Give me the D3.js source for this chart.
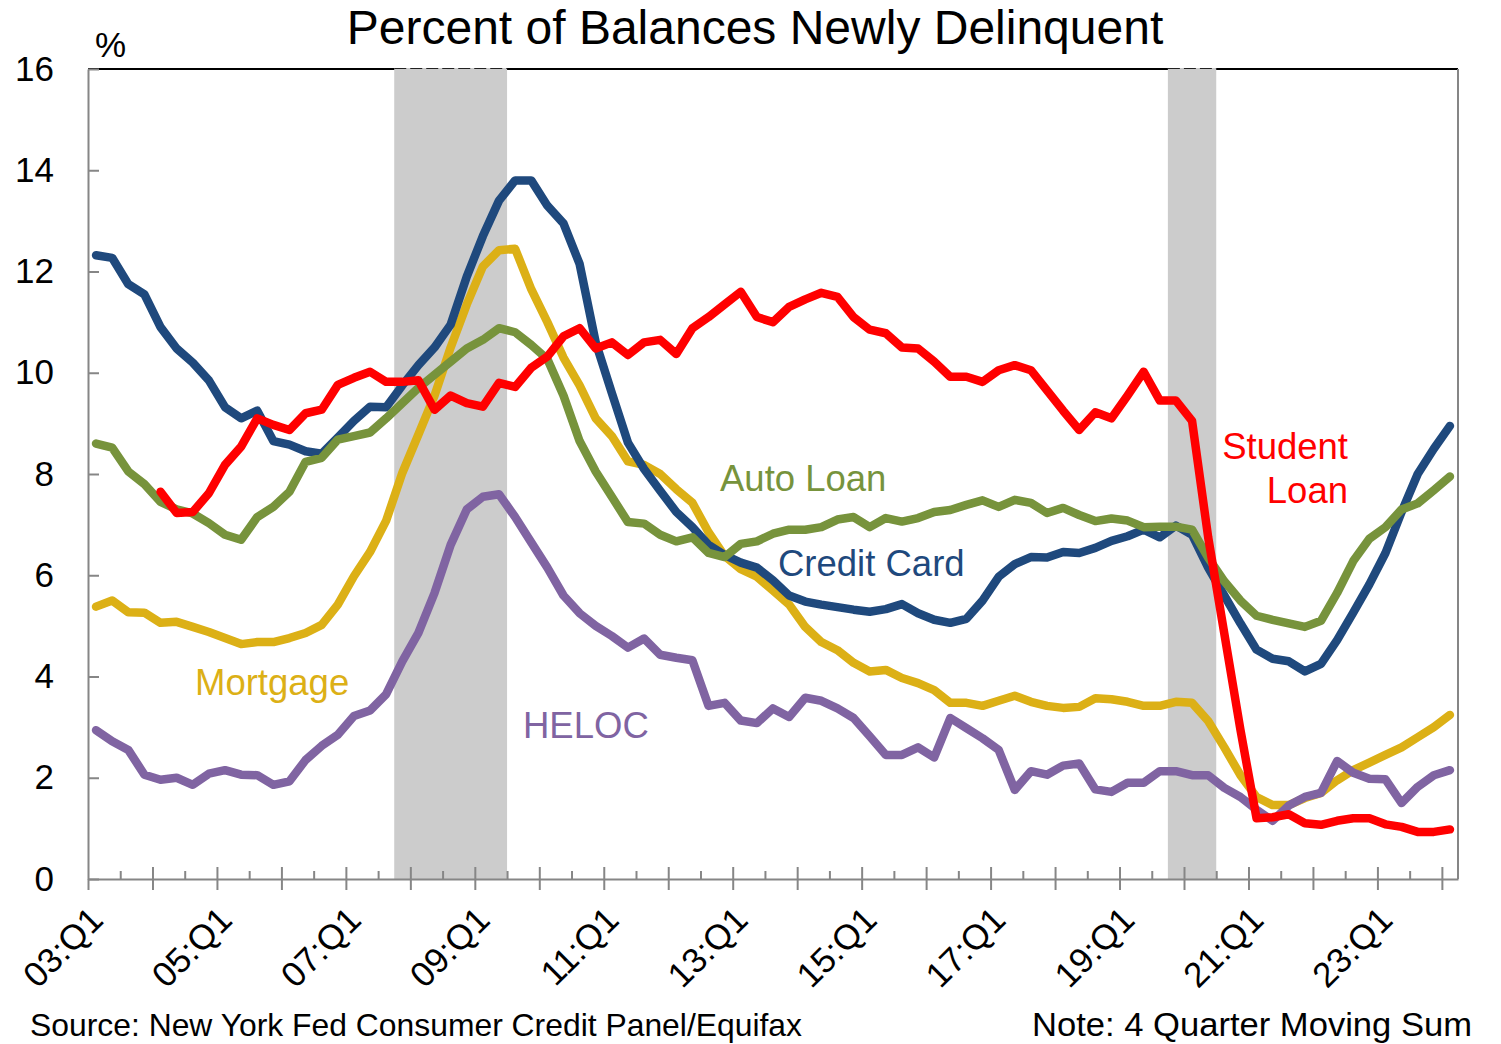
<!DOCTYPE html>
<html>
<head>
<meta charset="utf-8">
<script src="https://cdn.jsdelivr.net/npm/d3@7"></script>
<style>
  body { margin: 0; background: #fff; }
  text { font-family: "Liberation Sans", Arial, sans-serif; }
</style>
</head>
<body>
<div id="chart"></div>
<script>
const width = 1501;
const height = 1044;

// quarters 03:Q1 .. 24:Q1
const quarters = [];
for (let yr = 3; yr <= 24; yr++) {
  for (let q = 1; q <= 4; q++) {
    if (yr === 24 && q > 1) break;
    quarters.push(String(yr).padStart(2, "0") + ":Q" + q);
  }
}

const creditCard = [12.32, 12.27, 11.75, 11.55, 10.9, 10.48, 10.2, 9.85, 9.32, 9.1,
  9.25, 8.65, 8.58, 8.45, 8.4, 8.72, 9.05, 9.33, 9.32, 9.75,
  10.15, 10.5, 10.95, 11.9, 12.7, 13.4, 13.8, 13.8, 13.3, 12.95,
  12.15, 10.6, 9.6, 8.62, 8.1, 7.67, 7.25, 6.95, 6.6, 6.4,
  6.25, 6.15, 5.9, 5.6, 5.48, 5.42, 5.37, 5.32, 5.28, 5.33,
  5.43, 5.25, 5.12, 5.06, 5.14, 5.5, 5.97, 6.22, 6.36, 6.35,
  6.46, 6.44, 6.54, 6.68, 6.77, 6.9, 6.75, 6.98, 6.8, 6.15,
  5.6, 5.05, 4.53, 4.35, 4.3, 4.1, 4.25, 4.72, 5.26, 5.82,
  6.44, 7.25, 8.0, 8.5, 8.95];

const autoLoan = [8.6, 8.52, 8.05, 7.8, 7.45, 7.3, 7.22, 7.03, 6.8, 6.7,
  7.15, 7.35, 7.65, 8.24, 8.32, 8.68, 8.75, 8.82, 9.1, 9.4,
  9.7, 9.96, 10.22, 10.48, 10.65, 10.88, 10.8, 10.55, 10.27, 9.55,
  8.65, 8.05, 7.55, 7.05, 7.02, 6.8, 6.67, 6.75, 6.44, 6.36,
  6.62, 6.67, 6.82, 6.9, 6.9, 6.95, 7.1, 7.15, 6.95, 7.13,
  7.06, 7.13, 7.25, 7.29, 7.39, 7.48, 7.35, 7.49, 7.43, 7.23,
  7.33, 7.19, 7.07, 7.12, 7.08, 6.95, 6.96, 6.96, 6.9, 6.35,
  5.88, 5.5, 5.2, 5.12, 5.05, 4.98, 5.1, 5.65, 6.28, 6.72,
  6.95, 7.3, 7.42, 7.68, 7.95];

const mortgage = [5.38, 5.5, 5.27, 5.26, 5.06, 5.08, 4.98, 4.88, 4.76, 4.64,
  4.68, 4.68, 4.76, 4.86, 5.02, 5.42, 5.98, 6.46, 7.08, 8.02,
  8.78, 9.55, 10.5, 11.35, 12.1, 12.42, 12.45, 11.65, 11.0, 10.3,
  9.75, 9.1, 8.75, 8.25, 8.18, 8.0, 7.7, 7.43, 6.85, 6.38,
  6.12, 5.97, 5.7, 5.42, 4.98, 4.68, 4.52, 4.27, 4.1, 4.13,
  3.97, 3.87, 3.73, 3.48, 3.48, 3.42, 3.52, 3.62, 3.5, 3.42,
  3.38, 3.4, 3.57, 3.55, 3.5, 3.42, 3.42, 3.5, 3.48, 3.12,
  2.6, 2.05, 1.62, 1.46, 1.46, 1.6, 1.7, 1.95, 2.15, 2.3,
  2.45, 2.6, 2.8, 3.0, 3.24];

const heloc = [2.94, 2.72, 2.55, 2.06, 1.96, 2.0, 1.86, 2.08, 2.15, 2.06,
  2.05, 1.86, 1.93, 2.35, 2.63, 2.85, 3.22, 3.33, 3.65, 4.3,
  4.86, 5.65, 6.6, 7.3, 7.55, 7.6, 7.15, 6.65, 6.15, 5.6,
  5.25, 5.0, 4.8, 4.57, 4.75, 4.43, 4.37, 4.32, 3.42, 3.48,
  3.13, 3.08, 3.37, 3.2, 3.58, 3.52, 3.37, 3.18, 2.82, 2.45,
  2.45, 2.6, 2.4, 3.18, 2.98, 2.78, 2.55, 1.76, 2.13, 2.06,
  2.24, 2.28, 1.77, 1.72, 1.9, 1.9, 2.13, 2.13, 2.05, 2.05,
  1.8, 1.62, 1.37, 1.15, 1.45, 1.62, 1.7, 2.33, 2.1, 1.98,
  1.97, 1.5, 1.82, 2.05, 2.15];

const studentLoan = [null, null, null, null, 7.65, 7.23, 7.25, 7.62, 8.18, 8.54,
  9.1, 8.97, 8.87, 9.2, 9.27, 9.76, 9.9, 10.02, 9.82, 9.82,
  9.85, 9.27, 9.55, 9.4, 9.33, 9.8, 9.72, 10.1, 10.32, 10.72,
  10.88, 10.48, 10.6, 10.35, 10.6, 10.65, 10.37, 10.88, 11.1, 11.35,
  11.6, 11.1, 11.0, 11.3, 11.45, 11.58, 11.5, 11.1, 10.85, 10.78,
  10.5, 10.48, 10.22, 9.92, 9.92, 9.82, 10.05, 10.15, 10.05, 9.65,
  9.25, 8.87, 9.22, 9.1, 9.55, 10.02, 9.45, 9.45, 9.05, 6.75,
  4.85, 2.95, 1.2, 1.22, 1.28, 1.1, 1.07, 1.15, 1.2, 1.2,
  1.08, 1.03, 0.93, 0.93, 0.98];

const recessions = [["07:Q4", "09:Q2"], ["19:Q4", "20:Q2"]];
const yTicks = [0, 2, 4, 6, 8, 10, 12, 14, 16];

// drawing order, colours and in-chart labels (ly = baseline of first line)
const series = [
  { name: "Mortgage", values: mortgage, color: "#dcb016", label: ["Mortgage"], lx: 195, ly: 695, anchor: "start" },
  { name: "HELOC", values: heloc, color: "#8064a2", label: ["HELOC"], lx: 523, ly: 738, anchor: "start" },
  { name: "Credit Card", values: creditCard, color: "#1f497d", label: ["Credit Card"], lx: 778, ly: 576, anchor: "start" },
  { name: "Auto Loan", values: autoLoan, color: "#77933c", label: ["Auto Loan"], lx: 720, ly: 491, anchor: "start" },
  { name: "Student Loan", values: studentLoan, color: "#ff0000", label: ["Student", "Loan"], lx: 1348, ly: 459, anchor: "end" }
];

const plotLeft = 88, plotRight = 1458, plotTop = 69, plotBottom = 879;
const axisColor = "#868686";

const svg = d3.select("#chart")
  .append("svg")
  .attr("width", width)
  .attr("height", height);

const x = d3.scaleBand().domain(quarters).range([plotLeft, plotRight]).padding(0);
const xb = d3.scaleLinear().domain([0, quarters.length]).range([plotLeft, plotRight]);
const y = d3.scaleLinear().domain([0, 16]).range([plotBottom, plotTop]);
const bw = x.bandwidth();

// plot frame: top in black, right in grey
svg.append("line")
  .attr("x1", plotLeft).attr("x2", plotRight)
  .attr("y1", plotTop).attr("y2", plotTop)
  .attr("stroke", "#000").attr("stroke-width", 2);
svg.append("line")
  .attr("x1", plotRight).attr("x2", plotRight)
  .attr("y1", plotTop).attr("y2", plotBottom)
  .attr("stroke", axisColor).attr("stroke-width", 2);

// recession bands
recessions.forEach(([a, b]) => {
  const xa = x(a), xe = x(b) + bw;
  svg.append("rect")
    .attr("x", xa).attr("y", plotTop - 1)
    .attr("width", xe - xa).attr("height", plotBottom - plotTop + 1)
    .attr("fill", "#cccccc");
  svg.append("line")
    .attr("x1", xa).attr("x2", xe)
    .attr("y1", plotTop - 0.5).attr("y2", plotTop - 0.5)
    .attr("stroke", "#222").attr("stroke-width", 1)
    .attr("stroke-dasharray", "12,4");
});

// y axis
const yAxis = svg.append("g")
  .attr("transform", `translate(${plotLeft},0)`)
  .call(d3.axisLeft(y).tickValues(yTicks).tickSizeInner(-11).tickSizeOuter(0).tickPadding(34));
yAxis.select(".domain").attr("stroke", axisColor).attr("stroke-width", 2);
yAxis.selectAll(".tick line").attr("stroke", axisColor).attr("stroke-width", 2);
yAxis.selectAll(".tick text")
  .attr("font-size", 35)
  .attr("font-family", "Liberation Sans, Arial, sans-serif")
  .attr("fill", "#000");

// x axis: ticks on category boundaries, every half year, long ones each year
const xAxis = svg.append("g")
  .attr("transform", `translate(0,${plotBottom})`)
  .call(d3.axisBottom(xb).tickValues(d3.range(0, quarters.length, 2)).tickSizeOuter(0).tickFormat(""));
xAxis.select(".domain").attr("stroke", axisColor).attr("stroke-width", 2);
xAxis.selectAll(".tick line")
  .attr("stroke", axisColor).attr("stroke-width", 2)
  .attr("y1", d => d % 4 === 0 ? (d === 0 ? 0 : -12) : -8)
  .attr("y2", d => d % 4 === 0 ? 11 : 0);

// x tick labels every two years, rotated
svg.append("g")
  .selectAll("text")
  .data(quarters.filter((q, i) => i % 8 === 0))
  .enter()
  .append("text")
  .attr("transform", d => `translate(${x(d) + bw / 2 + 9},922) rotate(-45)`)
  .attr("text-anchor", "end")
  .attr("font-size", 35)
  .attr("fill", "#000")
  .text(d => d);

// lines
const line = d3.line()
  .defined(d => d.v !== null)
  .x(d => x(d.q) + bw / 2)
  .y(d => y(d.v));

series.forEach(s => {
  svg.append("path")
    .datum(quarters.map((q, i) => ({ q: q, v: s.values[i] })))
    .attr("fill", "none")
    .attr("stroke", s.color)
    .attr("stroke-width", 8.5)
    .attr("stroke-linejoin", "round")
    .attr("stroke-linecap", "round")
    .attr("d", line);
});

// series labels
series.forEach(s => {
  const t = svg.append("text")
    .attr("x", s.lx).attr("y", s.ly)
    .attr("text-anchor", s.anchor)
    .attr("font-size", 36.5)
    .attr("fill", s.color);
  s.label.forEach((l, k) => {
    t.append("tspan").attr("x", s.lx).attr("dy", k === 0 ? 0 : 44).text(l);
  });
});

// title, unit, notes
svg.append("text")
  .attr("x", 755).attr("y", 44)
  .attr("text-anchor", "middle")
  .attr("font-size", 48)
  .attr("fill", "#000")
  .text("Percent of Balances Newly Delinquent");

svg.append("text")
  .attr("x", 95).attr("y", 57)
  .attr("font-size", 35)
  .attr("fill", "#000")
  .text("%");

svg.append("text")
  .attr("x", 30).attr("y", 1036)
  .attr("font-size", 32)
  .attr("textLength", 772)
  .attr("lengthAdjust", "spacingAndGlyphs")
  .attr("fill", "#000")
  .text("Source: New York Fed Consumer Credit Panel/Equifax");

svg.append("text")
  .attr("x", 1032).attr("y", 1036)
  .attr("font-size", 33)
  .attr("textLength", 440)
  .attr("lengthAdjust", "spacingAndGlyphs")
  .attr("fill", "#000")
  .text("Note: 4 Quarter Moving Sum");
</script>
</body>
</html>
